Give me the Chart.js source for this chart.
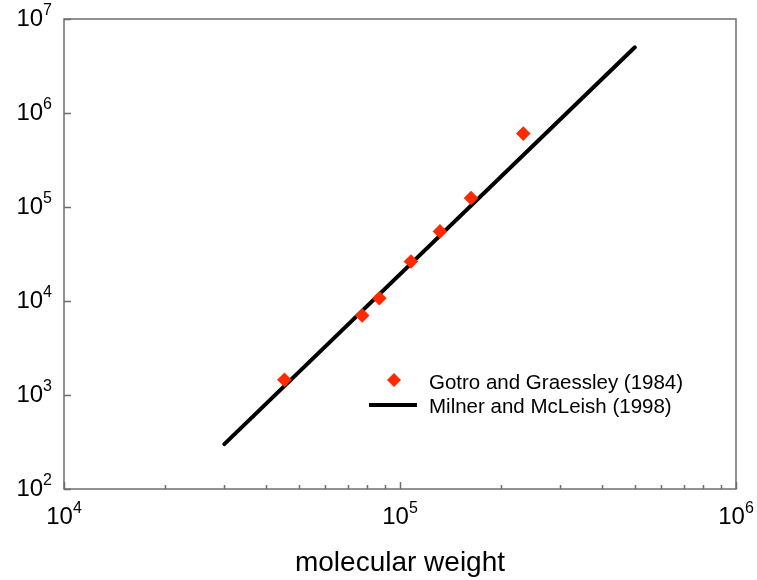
<!DOCTYPE html>
<html>
<head>
<meta charset="utf-8">
<script src="https://cdn.jsdelivr.net/npm/chart.js@4"></script>
<style>
  html, body { margin: 0; padding: 0; background: #fff; }
  #wrap { width: 757px; height: 580px; }
</style>
</head>
<body>
<div id="wrap"><canvas id="chart"></canvas></div>
<script>
// ===== DADOS =====
const gotroMw = [45300, 77200, 86800, 107800, 131500, 162700, 232800];
const gotroVal = [1450, 7000, 10700, 26300, 55000, 124700, 604000];

const milnerMw = [30000, 500000];
const milnerVal = [300, 5000000];

const xDecades = [4, 5, 6];
const yDecades = [2, 3, 4, 5, 6, 7];
const xMinorSteps = [2, 3, 4, 5, 6, 7, 8, 9];

const FONT = '"Liberation Sans", Arial, sans-serif';

// desenha "10^n" com expoente sobrescrito
function drawPow(ctx, exp, x, y, align) {
    ctx.font = '24px ' + FONT;
    const base = '10';
    const wBase = ctx.measureText(base).width;
    ctx.font = '16px ' + FONT;
    const wExp = ctx.measureText(String(exp)).width;
    const total = wBase + wExp;
    let left = x;
    if (align === 'center') left = x - total / 2;
    if (align === 'right') left = x - total;
    ctx.textAlign = 'left';
    ctx.textBaseline = 'alphabetic';
    ctx.font = '24px ' + FONT;
    ctx.fillText(base, left, y);
    ctx.font = '16px ' + FONT;
    ctx.fillText(String(exp), left + wBase, y - 11);
}

// moldura, ticks internos, rótulos, título do eixo e legenda
const framePlugin = {
    id: 'frame',
    afterDraw(chart) {
        const { ctx, chartArea: a, scales } = chart;
        const xs = scales.x, ys = scales.y;
        ctx.save();
        ctx.strokeStyle = '#6e6e6e';
        ctx.lineWidth = 1.5;
        ctx.strokeRect(a.left, a.top, a.right - a.left, a.bottom - a.top);

        ctx.beginPath();
        yDecades.forEach(d => {
            const py = Math.round(ys.getPixelForValue(Math.pow(10, d))) + 0.5;
            ctx.moveTo(a.left, py);
            ctx.lineTo(a.left + 7, py);
        });
        xDecades.forEach(d => {
            const px = Math.round(xs.getPixelForValue(Math.pow(10, d))) + 0.5;
            ctx.moveTo(px, a.bottom);
            ctx.lineTo(px, a.bottom - 7);
            if (d < 6) {
                xMinorSteps.forEach(m => {
                    const mx = Math.round(xs.getPixelForValue(m * Math.pow(10, d))) + 0.5;
                    ctx.moveTo(mx, a.bottom);
                    ctx.lineTo(mx, a.bottom - 4);
                });
            }
        });
        ctx.stroke();

        ctx.fillStyle = '#000';
        yDecades.forEach(d => {
            const py = ys.getPixelForValue(Math.pow(10, d));
            drawPow(ctx, d, a.left - 12, py + 7, 'right');
        });
        xDecades.forEach(d => {
            const px = xs.getPixelForValue(Math.pow(10, d));
            drawPow(ctx, d, px, a.bottom + 35, 'center');
        });

        ctx.font = '28px ' + FONT;
        ctx.textAlign = 'center';
        ctx.textBaseline = 'alphabetic';
        ctx.fillText('molecular weight', (a.left + a.right) / 2, 571);

        // legenda
        const ds = chart.data.datasets;
        const lx = 394, ly = 380;
        ctx.fillStyle = ds[0].pointBackgroundColor;
        ctx.beginPath();
        ctx.moveTo(lx, ly - 7);
        ctx.lineTo(lx + 7, ly);
        ctx.lineTo(lx, ly + 7);
        ctx.lineTo(lx - 7, ly);
        ctx.closePath();
        ctx.fill();
        ctx.strokeStyle = ds[1].borderColor;
        ctx.lineWidth = 4;
        ctx.beginPath();
        ctx.moveTo(369, ly + 25);
        ctx.lineTo(417, ly + 25);
        ctx.stroke();
        ctx.fillStyle = '#000';
        ctx.font = '20.5px ' + FONT;
        ctx.textAlign = 'left';
        ctx.textBaseline = 'alphabetic';
        ctx.fillText(ds[0].label, 429, ly + 9);
        ctx.fillText(ds[1].label, 429, ly + 33);
        ctx.restore();
    }
};

function initChart() {
    const el = document.getElementById('chart');
    new Chart(el, {
        type: 'scatter',
        data: {
            datasets: [
                {
                    label: 'Gotro and Graessley (1984)',
                    data: gotroMw.map((m, i) => ({ x: m, y: gotroVal[i] })),
                    pointStyle: 'rectRot',
                    pointRadius: 7.3,
                    pointBackgroundColor: '#ff2a00',
                    pointBorderWidth: 0,
                    showLine: false,
                    order: 0
                },
                {
                    label: 'Milner and McLeish (1998)',
                    data: milnerMw.map((m, i) => ({ x: m, y: milnerVal[i] })),
                    showLine: true,
                    borderColor: '#000',
                    borderWidth: 4,
                    borderCapStyle: 'round',
                    pointRadius: 0,
                    order: 1
                }
            ]
        },
        options: {
            responsive: true,
            maintainAspectRatio: false,
            animation: false,
            layout: { padding: { left: 64, top: 19, right: 21, bottom: 91 } },
            plugins: { legend: { display: false }, tooltip: { enabled: false } },
            scales: {
                x: { type: 'logarithmic', min: 1e4, max: 1e6, display: false },
                y: { type: 'logarithmic', min: 1e2, max: 1e7, display: false }
            }
        },
        plugins: [framePlugin]
    });
}

document.addEventListener('DOMContentLoaded', initChart);
</script>
</body>
</html>
